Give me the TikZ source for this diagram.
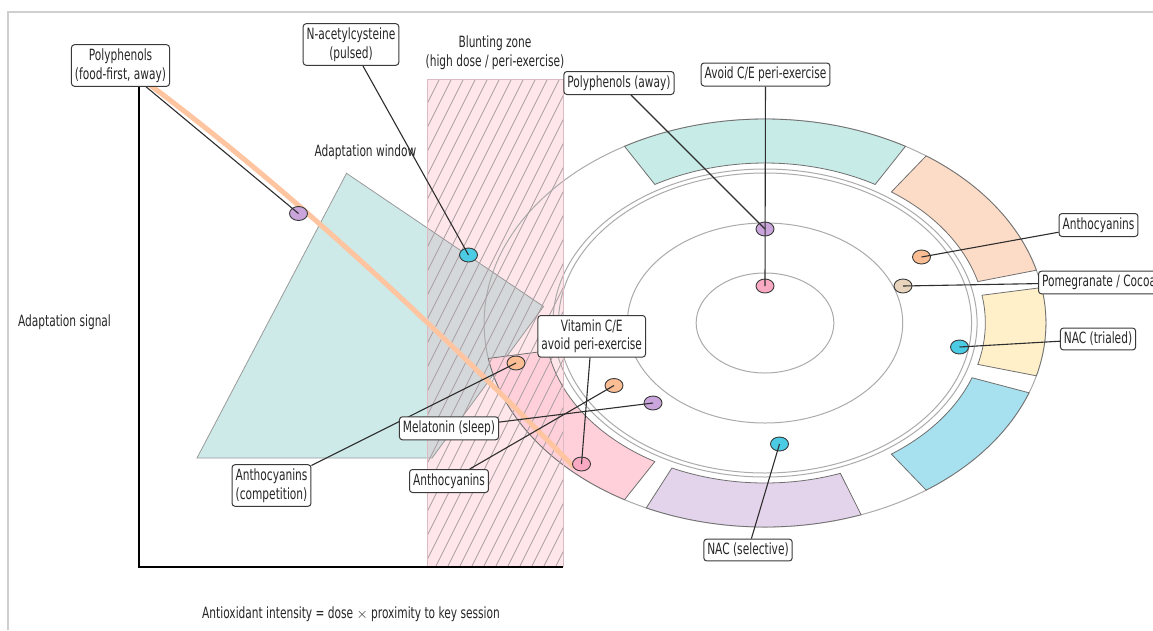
\documentclass[tikz,border=0pt]{standalone}
\usepackage{fontspec}
\setmainfont{DejaVu Sans}[FakeStretch=0.685]
\usetikzlibrary{shapes.geometric}
\pgfdeclarelayer{top}
\pgfsetlayers{main,top}
\definecolor{framec}{HTML}{CFCFCF}
\definecolor{tealw}{HTML}{CDEAE8}
\definecolor{overlap}{HTML}{D5D8DB}
\definecolor{blunt}{HTML}{FFE6EA}
\definecolor{bluntedge}{HTML}{DCBCC2}
\definecolor{hatchc}{HTML}{A89EA2}
\definecolor{winedge}{HTML}{9A9A9A}
\definecolor{guidec}{HTML}{ABABAB}
\definecolor{segedge}{HTML}{707070}
\definecolor{orangec}{HTML}{FFC4A0}
\definecolor{boxc}{HTML}{3A3A3A}
\definecolor{txt}{HTML}{262626}
\definecolor{leadc}{HTML}{2E2E2E}
\definecolor{dotedge}{HTML}{3A3A3A}
\definecolor{sTeal}{HTML}{C7EBE7}
\definecolor{sPeach}{HTML}{FDDCC7}
\definecolor{sYellow}{HTML}{FFF0C9}
\definecolor{sCyan}{HTML}{A7E1EF}
\definecolor{sPurple}{HTML}{E3D4EB}
\definecolor{sPink}{HTML}{FFD0DA}
\definecolor{dPurple}{HTML}{C9A5DC}
\definecolor{dPink}{HTML}{F9A9C1}
\definecolor{dPeach}{HTML}{FBBD94}
\definecolor{dTan}{HTML}{E8D3BC}
\definecolor{dCyan}{HTML}{4CCBE4}
\newcommand\ringseg[3]{%
  \filldraw[segst, fill=#1]
    plot[domain=#2:#3, samples=40] ({765+1.377*204*cos(\x)},{323-204*sin(\x)})
    -- plot[domain=#3:#2, samples=40] ({765+1.377*160*cos(\x)},{323-160*sin(\x)})
    -- cycle;}
\begin{document}
\begin{tikzpicture}[x=1pt,y=-1pt,
  font=\fontsize{15.5}{18.6}\selectfont,
  lbl/.style={draw=boxc, line width=1pt, fill=white, rounded corners=3pt,
    inner xsep=3.5pt, inner ysep=4pt, align=center, text=txt},
  plain/.style={text=txt, inner sep=0pt, align=center},
  dot/.style={ellipse, draw=dotedge, line width=0.9pt, minimum width=18pt,
    minimum height=14pt, inner sep=0pt},
  lead/.style={draw=leadc, line width=1.1pt},
  guide/.style={draw=guidec, line width=1pt},
  segst/.style={draw=segedge, line width=0.8pt},
  hatchl/.style={draw=hatchc, line width=0.7pt},
  window/.style={draw=winedge, line width=0.8pt}]
\fill[white] (0,0) rectangle (1153,630);
\useasboundingbox (0,0) rectangle (1153,630);
\draw[framec, line width=2pt] (8,630) -- (8,12) -- (1153,12);
% adaptation window
\filldraw[window, fill=tealw] (197,458) -- (346.5,173.3) -- (543.5,306.5) -- (432,458) -- cycle;
% blunting zone
\fill[blunt] (427.5,79) rectangle (563.3,567);
\begin{scope}
  \clip (427.5,79) rectangle (563.3,567);
  \filldraw[window, fill=overlap] (197,458) -- (346.5,173.3) -- (543.5,306.5) -- (432,458) -- cycle;
\end{scope}
% ring
\draw[guide] (765,323) ellipse [x radius=68.85pt, y radius=50pt];
\draw[guide] (765,323) ellipse [x radius=137.7pt, y radius=100pt];
\draw[guide] (765,323) ellipse [x radius=206.55pt, y radius=150pt];
\draw[guide] (765,323) ellipse [x radius=212.06pt, y radius=154pt];
\draw[guide] (765,323) ellipse [x radius=280.9pt, y radius=204pt];
\ringseg{sTeal}{60}{120}
\ringseg{sPeach}{15}{55}
\ringseg{sYellow}{-15}{10}
\ringseg{sCyan}{-55}{-20}
\ringseg{sPurple}{-115}{-70}
\ringseg{sPink}{-170}{-120}
% hatching
\begin{scope}
  \clip (427.5,79) rectangle (563.3,567);
  \foreach \k in {0,...,34}
    \draw[hatchl] ({170+12*\k},570) -- ++(250,-500);
\end{scope}
\draw[bluntedge, line width=0.9pt] (427.5,567) -- (427.5,79) -- (563.3,79) -- (563.3,567);
% polyphenol trail
\draw[orangec, line width=5pt] (150,85) .. controls (275.8,179.1) and (415.5,305.7) .. (574,467);
% axes
\draw[black, line width=1.8pt] (139,70) -- (139,567) -- (563.3,567);
% plain texts
\node[plain] (ysig) at (64.5,322) {Adaptation signal};
\node[plain] (win) at (365.5,152) {Adaptation window};
\node[plain] (bz) at (495,52.5) {Blunting zone\\(high dose / peri-exercise)};
\node[plain] (xlab) at (351,614) {Antioxidant intensity = dose $\times$ proximity to key session};
% dots
\node[dot, fill=dPurple] (d1) at (298.5,213.5) {};
\node[dot, fill=dCyan] (d2) at (468.5,255) {};
\node[dot, fill=dPurple] (d3) at (765,229) {};
\node[dot, fill=dPink] (d4) at (765,286) {};
\node[dot, fill=dPeach] (d5) at (921.5,257) {};
\node[dot, fill=dTan] (d6) at (903,286) {};
\node[dot, fill=dCyan] (d7) at (959.5,347) {};
\node[dot, fill=dCyan] (d8) at (779.5,444) {};
\node[dot, fill=dPink] (d9) at (581.5,464) {};
\node[dot, fill=dPurple] (d10) at (653,403) {};
\node[dot, fill=dPeach] (d11) at (614,385.5) {};
\node[dot, fill=dPeach] (d12) at (516,363) {};
% labels
\begin{pgfonlayer}{top}
\node[lbl] (L1) at (120.5,65.5) {Polyphenols\\(food-first, away)};
\node[lbl] (L2) at (351,44.5) {N-acetylcysteine\\(pulsed)};
\node[lbl] (L3) at (619,83) {Polyphenols (away)};
\node[lbl] (L4) at (765.5,74.5) {Avoid C/E peri-exercise};
\node[lbl] (L5) at (1098.5,225) {Anthocyanins};
\node[lbl, anchor=west] (L6) at (1038,282.5) {Pomegranate / Cocoa};
\node[lbl] (L7) at (1098,339) {NAC (trialed)};
\node[lbl] (L8) at (748,550) {NAC (selective)};
\node[lbl] (L9) at (591.7,336.3) {Vitamin C/E\\avoid peri-exercise};
\node[lbl] (L10) at (449,428.3) {Melatonin (sleep)};
\node[lbl] (L11) at (449,481) {Anthocyanins};
\node[lbl] (L12) at (271.5,485.5) {Anthocyanins\\(competition)};
\end{pgfonlayer}
% leaders
\draw[lead] (L1) -- (d1.center);
\draw[lead] (L2) -- (d2.center);
\draw[lead] (L3) -- (d3.center);
\draw[lead] (L4) -- (d4.center);
\draw[lead] (L5) -- (d5.center);
\draw[lead] (L6) -- (d6.center);
\draw[lead] (L7) -- (d7.center);
\draw[lead] (L8) -- (d8.center);
\draw[lead] (L9) -- (d9.center);
\draw[lead] (L10) -- (d10.center);
\draw[lead] (L11) -- (d11.center);
\draw[lead] (L12) -- (d12.center);
\end{tikzpicture}
\end{document}
